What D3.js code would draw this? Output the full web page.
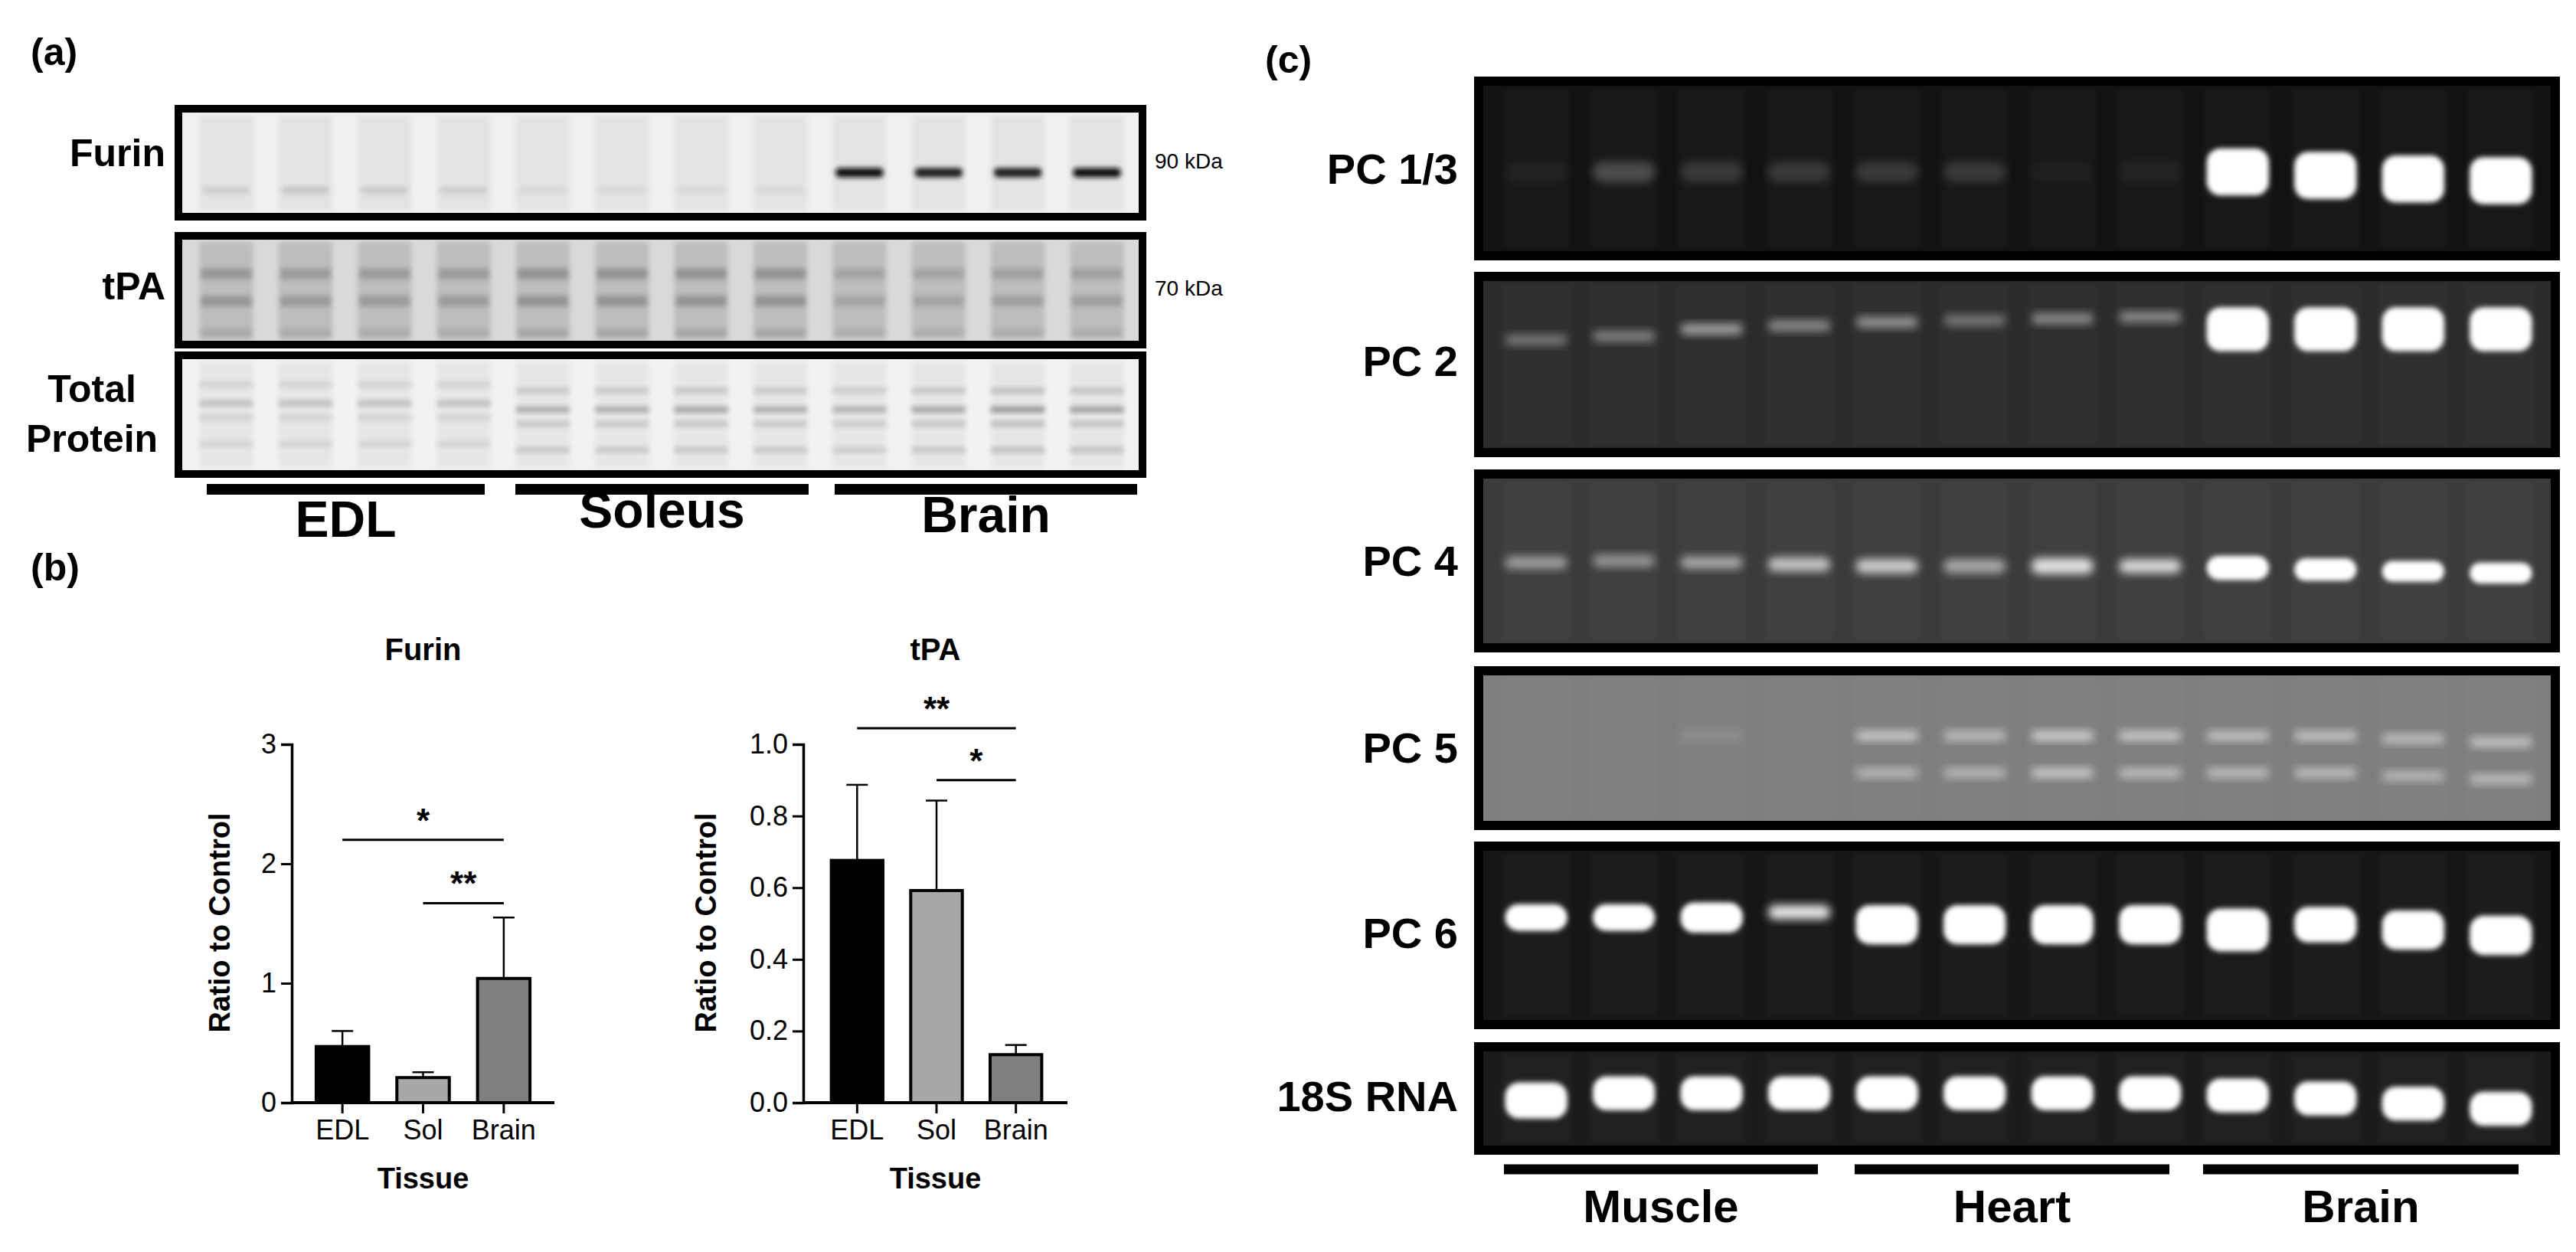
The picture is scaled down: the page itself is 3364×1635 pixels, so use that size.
<!DOCTYPE html>
<html><head><meta charset="utf-8">
<script src="https://cdn.jsdelivr.net/npm/d3@7"></script>
<style>body{margin:0;background:#fff}svg{display:block}</style></head>
<body><svg id="c" width="3364" height="1635"></svg>
<script>
// ---- data ----
const tissuesB = ["EDL","Sol","Brain"];
const furinMean = [0.47,0.21,1.04];
const furinErr  = [0.60,0.255,1.55];
const tpaMean   = [0.676,0.592,0.134];
const tpaErr    = [0.887,0.843,0.161];
const furinTicks = [0,1,2,3];
const tpaTicks = [0,0.2,0.4,0.6,0.8,1.0];
const furinSig = [{a:0,b:2,y:2.2,t:"*"},{a:1,b:2,y:1.67,t:"**"}];
const tpaSig = [{a:0,b:2,y:1.045,t:"**"},{a:1,b:2,y:0.90,t:"*"}];
const barColors = ["#000000","#a7a7aa","#808080"];
const lanes = d3.range(12);
const blotGroups = ["EDL","Soleus","Brain"];
const gelGroups = ["Muscle","Heart","Brain"];
const furinBand = [0.15,0.18,0.16,0.15,0.1,0.1,0.1,0.1,1,0.95,0.95,1];
const tpaBand = [0.45,0.4,0.4,0.4,0.5,0.5,0.5,0.5,0.3,0.3,0.35,0.35];
const tpBand = [0.3,0.3,0.3,0.3,0.45,0.45,0.5,0.45,0.4,0.5,0.6,0.55];
const gels = [
 {name:"PC 1/3",bg:"#121212",bands:[{y:[0.52,0.52,0.52,0.52,0.52,0.52,0.52,0.52,0.52,0.54,0.56,0.57],v:[0.04,0.22,0.14,0.14,0.14,0.14,0.03,0.05,1,1,1,1],h:[0.12,0.12,0.12,0.12,0.12,0.12,0.12,0.12,0.27,0.27,0.27,0.27]}]},
 {name:"PC 2",bg:"#2b2b2b",bands:[{y:[0.36,0.34,0.30,0.28,0.26,0.25,0.24,0.23,0.30,0.30,0.30,0.30],v:[0.35,0.4,0.55,0.45,0.5,0.35,0.45,0.45,1,1,1,1],h:[0.06,0.06,0.06,0.06,0.06,0.06,0.06,0.06,0.25,0.25,0.25,0.25]}]},
 {name:"PC 4",bg:"#3b3b3b",bands:[{y:[0.51,0.50,0.51,0.52,0.53,0.53,0.53,0.53,0.54,0.55,0.56,0.57],v:[0.5,0.45,0.55,0.7,0.75,0.55,0.85,0.8,1,1,1,1],h:[0.07,0.07,0.07,0.08,0.08,0.08,0.09,0.08,0.14,0.13,0.12,0.12]}]},
 {name:"PC 5",bg:"#7e7e7e",bands:[{y:[0.42,0.42,0.42,0.42,0.42,0.42,0.42,0.42,0.42,0.42,0.44,0.46],v:[0,0,0.12,0,0.6,0.5,0.65,0.6,0.55,0.55,0.5,0.55],h:[0.06,0.06,0.06,0.06,0.06,0.06,0.06,0.06,0.06,0.06,0.06,0.06]},{y:[0.66,0.66,0.66,0.66,0.66,0.66,0.66,0.66,0.66,0.66,0.68,0.70],v:[0,0,0,0,0.45,0.45,0.6,0.5,0.5,0.5,0.45,0.5],h:[0.06,0.06,0.06,0.06,0.06,0.06,0.06,0.06,0.06,0.06,0.06,0.06]}]},
 {name:"PC 6",bg:"#161616",bands:[{y:[0.40,0.40,0.40,0.37,0.44,0.44,0.44,0.44,0.47,0.44,0.47,0.50],v:[1,1,1,0.9,1,1,1,1,1,1,1,1],h:[0.15,0.15,0.17,0.08,0.22,0.22,0.22,0.22,0.24,0.2,0.22,0.22]}]},
 {name:"18S RNA",bg:"#1b1b1b",bands:[{y:[0.52,0.45,0.45,0.45,0.45,0.45,0.45,0.45,0.47,0.50,0.55,0.60],v:[1,1,1,1,1,1,1,1,1,1,1,1],h:[0.35,0.33,0.33,0.33,0.33,0.33,0.33,0.33,0.33,0.33,0.33,0.33]}]}
];
// ---- layout ----
const svg = d3.select("#c");
const NARROW = "'Liberation Sans Narrow','Arial Narrow',Arial,'Liberation Sans',sans-serif";
const SANS = "Arial,'Liberation Sans',sans-serif";
const grey = d3.interpolateRgb("#eeeeee","#111111");
const defs = svg.append("defs");
defs.append("filter").attr("id","blur").attr("x","-50%").attr("y","-50%").attr("width","200%").attr("height","200%")
  .append("feGaussianBlur").attr("stdDeviation",6);
defs.append("filter").attr("id","blur2").attr("x","-50%").attr("y","-50%").attr("width","200%").attr("height","200%")
  .append("feGaussianBlur").attr("stdDeviation",3);
function label(x,y,t,size,anchor,font,weight){
  return svg.append("text").attr("x",x).attr("y",y).attr("font-size",size).attr("font-family",font||SANS)
   .attr("font-weight",weight||"bold").attr("text-anchor",anchor||"start").attr("dominant-baseline","middle").text(t);
}
label(40,72,"(a)",50,"start",NARROW);
label(40,745,"(b)",50,"start",NARROW);
label(1652,82,"(c)",50,"start",NARROW);

// ---- (a) western blots ----
const bx = d3.scaleBand().domain(lanes).range([250,1478]).paddingInner(0.32).paddingOuter(0.1);
const blots = [{name:"Furin",y0:142,y1:283,bg:"#f0f0f0",lane:"#e3e3e3",band:furinBand,kda:"90 kDa"},
               {name:"tPA",y0:308,y1:450,bg:"#d9d9d9",lane:"#bdbdbd",band:tpaBand,kda:"70 kDa"},
               {name:"TP",y0:464,y1:619,bg:"#f2f2f2",lane:"#e6e6e6",band:tpBand,kda:null}];
blots.forEach(b=>{
  const g = svg.append("g");
  const h=b.y1-b.y0;
  g.append("rect").attr("x",233).attr("y",b.y0).attr("width",1259).attr("height",h).attr("fill",b.bg);
  g.selectAll("rect.l").data(lanes).join("rect").attr("x",d=>bx(d)).attr("y",b.y0+8).attr("width",bx.bandwidth()).attr("height",h-16).attr("fill",b.lane).attr("filter","url(#blur2)");
  if(b.name==="Furin"){
    g.selectAll("rect.f").data(lanes).join("rect").attr("x",d=>bx(d)+4).attr("y",d=>b.y0+h*(d>=8?0.55:0.72)).attr("width",bx.bandwidth()-8).attr("height",d=>d>=8?12:10)
     .attr("rx",5).attr("fill",d=>grey(b.band[d])).attr("filter","url(#blur2)");
  } else if(b.name==="tPA"){
    [0.3,0.55,0.85].forEach((fy,i)=>g.selectAll("rect.t"+i).data(lanes).join("rect").attr("x",d=>bx(d)+2).attr("y",b.y0+h*fy).attr("width",bx.bandwidth()-4).attr("height",14)
     .attr("fill","#555").attr("opacity",d=>b.band[d]*(i===2?0.4:0.8)).attr("filter","url(#blur2)"));
  } else {
    [0.22,0.38,0.5,0.72].forEach((fy,i)=>g.selectAll("rect.p"+i).data(lanes).join("rect").attr("x",d=>bx(d)).attr("y",d=>b.y0+h*fy+(d>=4?8:0)).attr("width",bx.bandwidth()).attr("height",8)
     .attr("fill","#555").attr("opacity",d=>b.band[d]*(i===1?0.9:0.45)).attr("filter","url(#blur2)"));
  }
  g.append("rect").attr("x",233).attr("y",b.y0).attr("width",1259).attr("height",h).attr("fill","none").attr("stroke","#000").attr("stroke-width",10);
  if(b.kda) label(1508,(b.y0+b.y1)/2,b.kda,28,"start",NARROW,"normal");
});
label(216,204,"Furin",50,"end",NARROW);
label(216,378,"tPA",50,"end",NARROW);
label(120,512,"Total",50,"middle",NARROW);
label(120,577,"Protein",50,"middle",NARROW);
const blotLines=[[270,633],[673,1056],[1090,1485]];
blotLines.forEach((l,i)=>{
  svg.append("line").attr("x1",l[0]).attr("x2",l[1]).attr("y1",639).attr("y2",639).attr("stroke","#000").attr("stroke-width",14);
  label((l[0]+l[1])/2,[706,694,700][i]-22,blotGroups[i],66,"middle",SANS);
});

// ---- (b) bar charts ----
function barChart(cfg){
  const x = d3.scaleBand().domain(tissuesB).range(cfg.xr).paddingInner(0.35).paddingOuter(0.17);
  const y = d3.scaleLinear().domain(cfg.dom).range([1440,972]);
  const g = svg.append("g");
  g.selectAll("line.err").data(tissuesB).join("line").attr("x1",d=>x(d)+x.bandwidth()/2).attr("x2",d=>x(d)+x.bandwidth()/2)
   .attr("y1",(d,i)=>y(cfg.mean[i])).attr("y2",(d,i)=>y(cfg.err[i])).attr("stroke","#000").attr("stroke-width",2.5);
  g.selectAll("line.cap").data(tissuesB).join("line").attr("x1",d=>x(d)+x.bandwidth()/2-14).attr("x2",d=>x(d)+x.bandwidth()/2+14)
   .attr("y1",(d,i)=>y(cfg.err[i])).attr("y2",(d,i)=>y(cfg.err[i])).attr("stroke","#000").attr("stroke-width",2.5);
  g.selectAll("rect.bar").data(tissuesB).join("rect").attr("x",d=>x(d)).attr("width",x.bandwidth())
   .attr("y",(d,i)=>y(cfg.mean[i])).attr("height",(d,i)=>y(0)-y(cfg.mean[i]))
   .attr("fill",(d,i)=>barColors[i]).attr("stroke","#000").attr("stroke-width",4);
  const ya = g.append("g").attr("transform",`translate(${cfg.ax},0)`).call(d3.axisLeft(y).tickValues(cfg.ticks).tickFormat(cfg.fmt).tickSize(14).tickPadding(6));
  ya.select(".domain").attr("stroke-width",3.5);
  ya.selectAll(".tick line").attr("stroke-width",3);
  ya.selectAll("text").attr("font-size",36).attr("font-family",NARROW);
  const xa = g.append("g").attr("transform","translate(0,1440)").call(d3.axisBottom(x).tickSize(14).tickPadding(8));
  xa.select(".domain").remove();
  xa.selectAll(".tick line").attr("stroke-width",3);
  xa.selectAll("text").attr("font-size",36).attr("font-family",NARROW);
  g.append("line").attr("x1",cfg.ax).attr("x2",cfg.xend).attr("y1",1440).attr("y2",1440).attr("stroke","#000").attr("stroke-width",4);
  cfg.sig.forEach(s=>{
    const xa1=x(tissuesB[s.a])+x.bandwidth()/2, xb=x(tissuesB[s.b])+x.bandwidth()/2;
    g.append("line").attr("x1",xa1).attr("x2",xb).attr("y1",y(s.y)).attr("y2",y(s.y)).attr("stroke","#000").attr("stroke-width",3);
    g.append("text").attr("x",(xa1+xb)/2).attr("y",y(s.y)-10).attr("text-anchor","middle").attr("font-size",44).attr("font-weight","bold").attr("font-family",SANS).text(s.t);
  });
  g.append("text").attr("x",(cfg.ax+cfg.xend)/2).attr("y",851).attr("dominant-baseline","middle").attr("text-anchor","middle").attr("font-size",40).attr("font-weight","bold").attr("font-family",NARROW).text(cfg.title);
  g.append("text").attr("x",(cfg.ax+cfg.xend)/2).attr("y",1542).attr("dominant-baseline","middle").attr("text-anchor","middle").attr("font-size",38).attr("font-weight","bold").attr("font-family",NARROW).text("Tissue");
  g.append("text").attr("transform",`translate(${cfg.ylx},1205) rotate(-90)`).attr("dominant-baseline","middle").attr("text-anchor","middle").attr("font-size",38).attr("font-weight","bold").attr("font-family",SANS).text("Ratio to Control");
}
barChart({xr:[395,710],ax:381,xend:724,dom:[0,3],ticks:furinTicks,fmt:d3.format("d"),mean:furinMean,err:furinErr,sig:furinSig,title:"Furin",ylx:290});
barChart({xr:[1068,1378],ax:1049,xend:1394,dom:[0,1],ticks:tpaTicks,fmt:d3.format(".1f"),mean:tpaMean,err:tpaErr,sig:tpaSig,title:"tPA",ylx:925});

// ---- (c) gels ----
const gelBoxes=[[106,334],[361,591],[619,846],[876,1078],[1105,1338],[1367,1502]];
const gelLabelY=[225,476,737,981,1223,1436];
const gx = d3.scaleBand().domain(lanes).range([1950,3322]).paddingInner(0.22).paddingOuter(0.1);
gels.forEach((gel,gi)=>{
  const [y0,y1]=gelBoxes[gi], h=y1-y0;
  const g=svg.append("g");
  g.append("rect").attr("x",1931).attr("y",y0).attr("width",1406).attr("height",h).attr("fill",gel.bg);
  g.selectAll("rect.lane").data(lanes).join("rect").attr("x",d=>gx(d)).attr("y",y0+10).attr("width",gx.bandwidth()).attr("height",h-20)
    .attr("fill","#fff").attr("opacity",0.025).attr("filter","url(#blur2)");
  gel.bands.forEach((b,bi)=>{
    g.selectAll("rect.b"+bi).data(lanes).join("rect").attr("x",d=>gx(d)+4).attr("width",gx.bandwidth()-8)
     .attr("y",d=>y0+h*(b.y[d]-b.h[d]/2)).attr("height",d=>h*b.h[d]).attr("rx",d=>Math.min(18,h*b.h[d]/2))
     .attr("fill","#fff").attr("opacity",d=>b.v[d]).attr("filter",d=>b.v[d]>0.9?"url(#blur2)":"url(#blur)");
  });
  g.append("rect").attr("x",1931).attr("y",y0).attr("width",1406).attr("height",h).attr("fill","none").attr("stroke","#000").attr("stroke-width",12);
  label(1904,gelLabelY[gi],gel.name,56,"end",NARROW);
});
const gelLines=[[1964,2374],[2422,2833],[2877,3289]];
gelLines.forEach((l,i)=>{
  svg.append("line").attr("x1",l[0]).attr("x2",l[1]).attr("y1",1527).attr("y2",1527).attr("stroke","#000").attr("stroke-width",13);
  label((l[0]+l[1])/2,1580,gelGroups[i],60,"middle",NARROW);
});
</script></body></html>
